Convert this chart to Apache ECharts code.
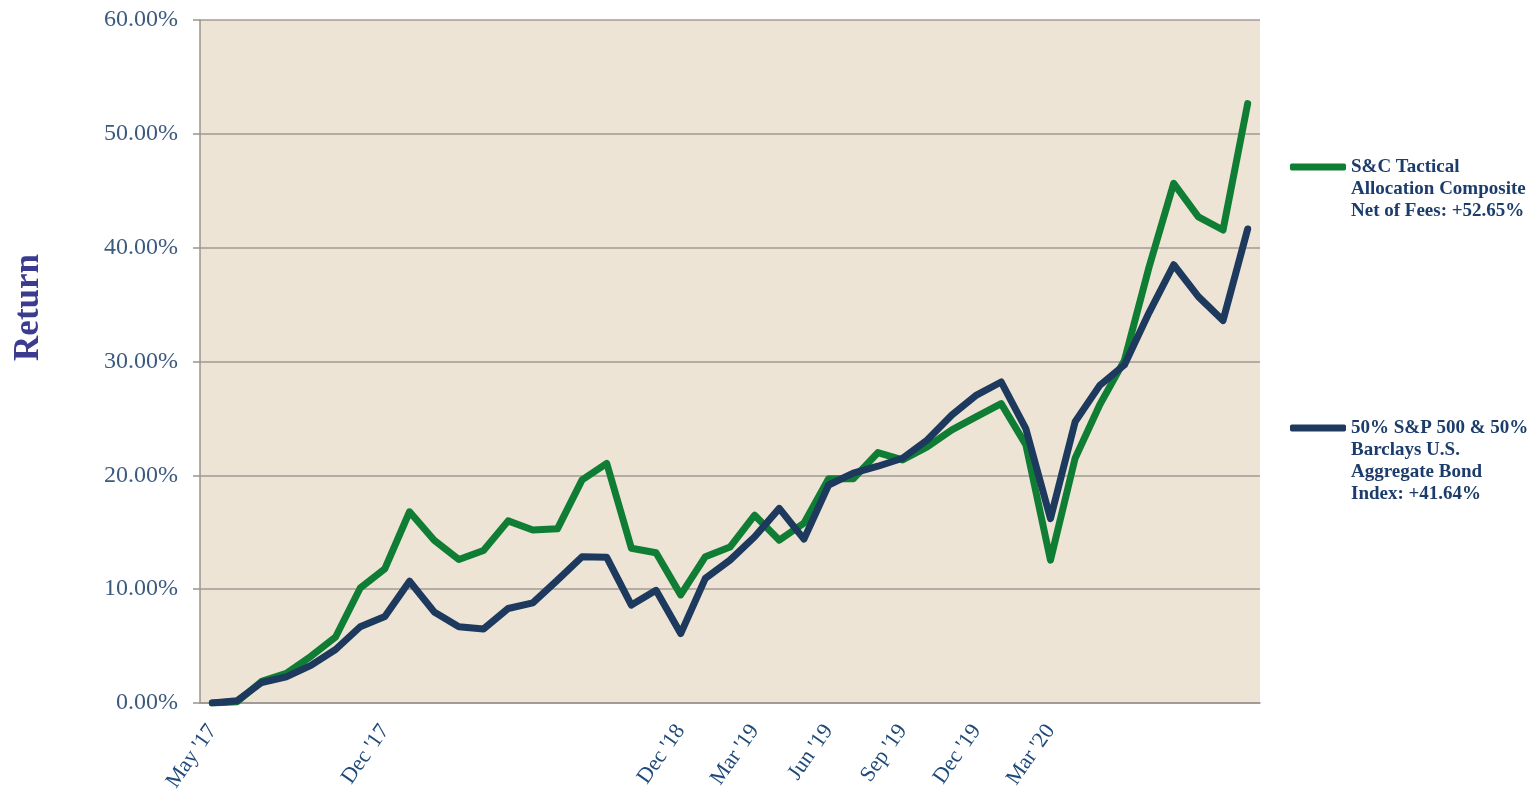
<!DOCTYPE html>
<html>
<head>
<meta charset="utf-8">
<script src="https://cdn.jsdelivr.net/npm/echarts@6/dist/echarts.min.js"></script>
<style>
  html, body { margin: 0; padding: 0; background: #fff; }
  #chart { width: 1535px; height: 801px; }
</style>
</head>
<body>
<div id="chart"></div>
<script>
// months, May '17 .. Nov '20
const months = [
  "May '17", "Jun '17", "Jul '17", "Aug '17", "Sep '17", "Oct '17", "Nov '17", "Dec '17",
  "Jan '18", "Feb '18", "Mar '18", "Apr '18", "May '18", "Jun '18", "Jul '18", "Aug '18",
  "Sep '18", "Oct '18", "Nov '18", "Dec '18", "Jan '19", "Feb '19", "Mar '19", "Apr '19",
  "May '19", "Jun '19", "Jul '19", "Aug '19", "Sep '19", "Oct '19", "Nov '19", "Dec '19",
  "Jan '20", "Feb '20", "Mar '20", "Apr '20", "May '20", "Jun '20", "Jul '20", "Aug '20",
  "Sep '20", "Oct '20", "Nov '20"
]
// only these get a label on the x axis
const shownLabels = ["May '17", "Dec '17", "Dec '18", "Mar '19", "Jun '19", "Sep '19", "Dec '19", "Mar '20"]

// cumulative return, %
const tactical = [
  0, 0.1, 1.9, 2.6, 4.1, 5.8, 10.1, 11.8, 16.8, 14.3, 12.6, 13.4, 16.0, 15.2, 15.3, 19.6,
  21.05, 13.6, 13.2, 9.5, 12.85, 13.7, 16.5, 14.3, 15.8, 19.7, 19.7, 22.0, 21.35, 22.5,
  24.0, 25.15, 26.3, 22.7, 12.55, 21.5, 26.2, 30.1, 38.3, 45.65, 42.7, 41.55, 52.65
]
const benchmark = [
  0, 0.2, 1.8, 2.3, 3.3, 4.7, 6.7, 7.6, 10.7, 8.0, 6.7, 6.5, 8.3, 8.8, 10.8, 12.85,
  12.8, 8.6, 9.9, 6.1, 10.95, 12.55, 14.6, 17.1, 14.4, 19.15, 20.2, 20.8, 21.5, 23.1,
  25.3, 27.05, 28.2, 24.1, 16.2, 24.7, 27.9, 29.7, 34.3, 38.5, 35.7, 33.6, 41.64
]

const tacticalName = 'S&C Tactical\nAllocation Composite\nNet of Fees: +52.65%'
const benchmarkName = '50% S&P 500 & 50%\nBarclays U.S.\nAggregate Bond\nIndex: +41.64%'

const serif = '"Liberation Serif", "DejaVu Serif", serif'
const green = '#0f7d33'
const navy = '#1d3a5e'

const chart = echarts.init(document.getElementById('chart'))

const legendText = {
  fontFamily: serif,
  fontSize: 19,
  fontWeight: 'bold',
  color: '#1c3d6b',
  lineHeight: 22
}

// legend text is centred on the icon, so pad with blank lines on top
// to bring the first line level with the icon
const padTop = name => '\n'.repeat(name.split('\n').length - 1) + name

const option = {
  animation: false,
  graphic: [{
    type: 'text',
    left: 11,
    top: 254,
    rotation: Math.PI / 2,
    style: {
      text: 'Return',
      font: 'bold 35px ' + serif,
      fill: '#3b3b90'
    }
  }],
  legend: [
    {
      data: [tacticalName],
      left: 1290,
      top: 112,
      padding: 0,
      icon: 'roundRect',
      itemWidth: 56,
      itemHeight: 7,
      formatter: padTop,
      textStyle: legendText
    },
    {
      data: [benchmarkName],
      left: 1290,
      top: 351,
      padding: 0,
      icon: 'roundRect',
      itemWidth: 56,
      itemHeight: 7,
      formatter: padTop,
      textStyle: legendText
    }
  ],
  grid: {
    left: 200,
    right: 275,
    top: 20,
    bottom: 98,
    show: true,
    backgroundColor: '#ede4d5',
    borderWidth: 0
  },
  xAxis: {
    type: 'category',
    data: months,
    boundaryGap: true,
    axisLine: { lineStyle: { color: '#9a948c', width: 1.5 } },
    axisTick: { interval: 0, length: 7, lineStyle: { color: '#9a948c', width: 1.5 } },
    axisLabel: {
      interval: (i, v) => shownLabels.includes(v),
      rotate: 55,
      margin: 24,
      fontFamily: serif,
      fontSize: 22,
      color: '#1f4a7a'
    }
  },
  yAxis: {
    type: 'value',
    min: 0,
    max: 60,
    interval: 10,
    axisLine: { show: true, lineStyle: { color: '#9a948c', width: 1.5 } },
    axisTick: { show: true, length: 7, lineStyle: { color: '#9a948c', width: 1.5 } },
    splitLine: { lineStyle: { color: '#a19b93', width: 1.5 } },
    axisLabel: {
      formatter: v => v.toFixed(2) + '%',
      margin: 22,
      fontFamily: serif,
      fontSize: 24,
      color: '#3c5a80'
    }
  },
  series: [
    {
      name: tacticalName,
      type: 'line',
      data: tactical,
      showSymbol: false,
      color: green,
      lineStyle: { width: 7, color: green, join: 'round', cap: 'round' },
      z: 2
    },
    {
      name: benchmarkName,
      type: 'line',
      data: benchmark,
      showSymbol: false,
      color: navy,
      lineStyle: { width: 7, color: navy, join: 'round', cap: 'round' },
      z: 3
    }
  ]
}

chart.setOption(option)
window.addEventListener('resize', () => chart.resize())
</script>
</body>
</html>
